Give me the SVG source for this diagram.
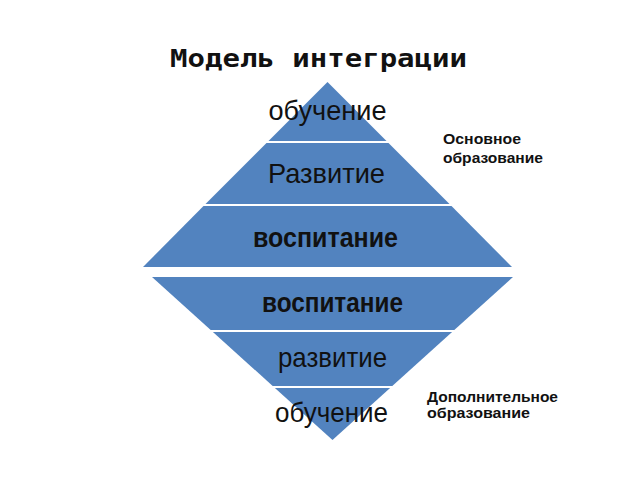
<svg xmlns="http://www.w3.org/2000/svg" width="640" height="480" viewBox="0 0 640 480">
<style>
.band{fill:#5283bf;}
.t{font-family:"Liberation Sans",Arial,sans-serif;fill:#111;text-anchor:middle;}
.b{font-weight:bold;}
.lab{font-family:"Liberation Sans",Arial,sans-serif;font-weight:bold;font-size:15px;fill:#111;}
.title{font-family:"DejaVu Sans Mono","Liberation Mono",monospace;font-weight:bold;font-size:24px;fill:#111;}
</style>
<rect width="640" height="480" fill="#fff"/>
<text class="title" x="170" y="67" textLength="297" lengthAdjust="spacingAndGlyphs">Модель интеграции</text>
<g id="upper">
<g id="u1"><polygon class="band" points="327.5,82 386.5,141 268.5,141"/><text class="t" x="327.5" y="120" font-size="28.5" textLength="118" lengthAdjust="spacingAndGlyphs">обучение</text></g>
<g id="u2"><polygon class="band" points="266.5,143 388.5,143 449.5,204 205.5,204"/><text class="t" x="326.5" y="183" font-size="28.5" textLength="117" lengthAdjust="spacingAndGlyphs">Развитие</text></g>
<g id="u3"><polygon class="band" points="203.5,206 451.5,206 512,267 143,267"/><text class="t b" x="325.5" y="247" font-size="27" textLength="145" lengthAdjust="spacingAndGlyphs">воспитание</text></g>
</g>
<g id="lower">
<g id="l1"><polygon class="band" points="152,277 513,277 454.3,330 210.7,330"/><text class="t b" x="332.5" y="312" font-size="27" textLength="141" lengthAdjust="spacingAndGlyphs">воспитание</text></g>
<g id="l2"><polygon class="band" points="212.9,332 452.1,332 392.3,386 272.7,386"/><text class="t" x="332.5" y="367" font-size="28" textLength="109" lengthAdjust="spacingAndGlyphs">развитие</text></g>
<g id="l3"><polygon class="band" points="274.9,388 390.1,388 332.5,440"/><text class="t" x="331.5" y="422" font-size="28.5" textLength="113" lengthAdjust="spacingAndGlyphs">обучение</text></g>
</g>
<g id="labels">
<text class="lab" x="443" y="144" textLength="78" lengthAdjust="spacingAndGlyphs">Основное</text>
<text class="lab" x="443" y="163" textLength="100" lengthAdjust="spacingAndGlyphs">образование</text>
<text class="lab" x="427" y="402" textLength="131" lengthAdjust="spacingAndGlyphs">Дополнительное</text>
<text class="lab" x="427" y="418" textLength="103" lengthAdjust="spacingAndGlyphs">образование</text>
</g>
<g id="connectors"></g>
</svg>
